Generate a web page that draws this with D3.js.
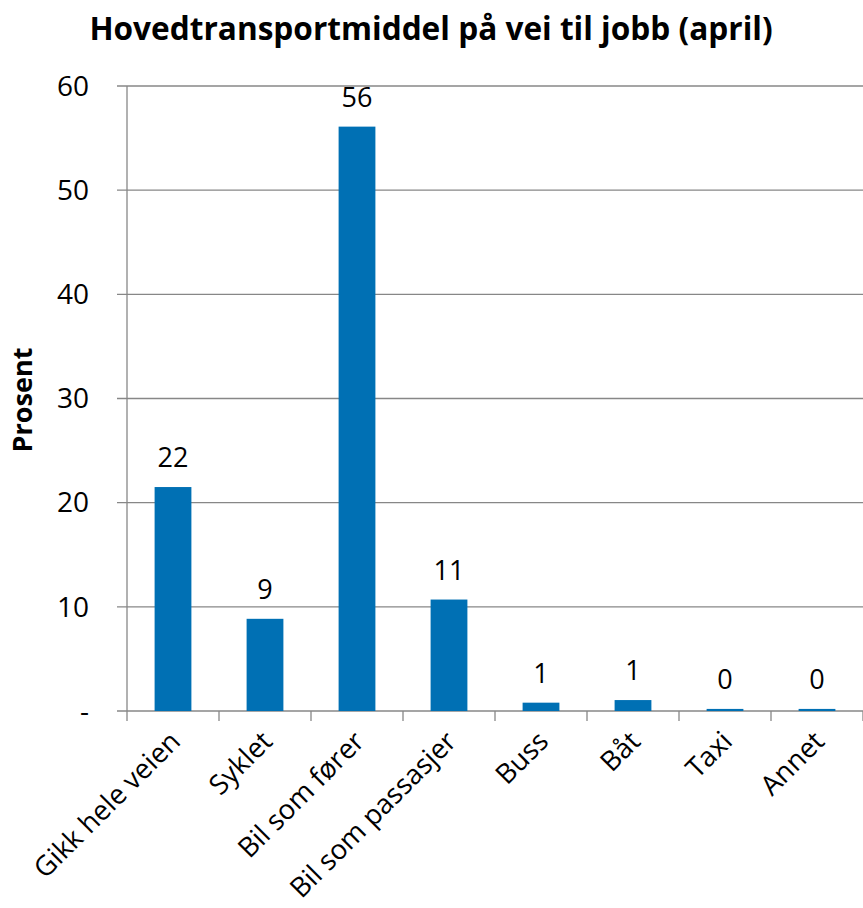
<!DOCTYPE html>
<html>
<head>
<meta charset="utf-8">
<script src="https://cdn.jsdelivr.net/npm/d3@7"></script>
<style>
  body { margin: 0; background: #fff; }
  text { font-family: "Open Sans", "Noto Sans", sans-serif; fill: #000; }
</style>
</head>
<body>
<svg id="chart" width="863" height="908"></svg>
<script>
const categories = ["Gikk hele veien", "Syklet", "Bil som fører", "Bil som passasjer", "Buss", "Båt", "Taxi", "Annet"];
const values = [21.5, 8.85, 56.1, 10.7, 0.8, 1.05, 0.2, 0.2];
const yTicks = [0, 10, 20, 30, 40, 50, 60];

const margin = { top: 86, right: 0, bottom: 197, left: 127 };
const width = 863;
const height = 908;

const svg = d3.select("#chart");

const x = d3.scaleBand()
  .domain(categories)
  .range([margin.left, width - margin.right])
  .paddingInner(0.6)
  .paddingOuter(0.3);

// band ticks sit on category boundaries, so keep a plain step scale too
const step = (width - margin.right - margin.left) / categories.length;

const y = d3.scaleLinear()
  .domain([0, 60])
  .range([height - margin.bottom, margin.top]);

// gridlines
svg.append("g")
  .selectAll("line")
  .data(yTicks)
  .join("line")
  .attr("x1", margin.left - 10)
  .attr("x2", width)
  .attr("y1", d => y(d))
  .attr("y2", d => y(d))
  .attr("stroke", "#878787")
  .attr("stroke-width", 1.3);

// y axis line
svg.append("line")
  .attr("x1", margin.left).attr("x2", margin.left)
  .attr("y1", y(60)).attr("y2", y(0))
  .attr("stroke", "#878787").attr("stroke-width", 1.3);

// y tick labels
svg.append("g")
  .selectAll("text")
  .data(yTicks)
  .join("text")
  .attr("x", margin.left - 38)
  .attr("y", d => y(d))
  .attr("dy", "0.35em")
  .attr("text-anchor", "end")
  .style("font-size", "28px")
  .text(d => d === 0 ? "-" : d);

// x tick marks
svg.append("g")
  .selectAll("line")
  .data(d3.range(categories.length + 1))
  .join("line")
  .attr("x1", i => margin.left + i * step)
  .attr("x2", i => margin.left + i * step)
  .attr("y1", y(0))
  .attr("y2", y(0) + 10)
  .attr("stroke", "#878787")
  .attr("stroke-width", 1.3);

// bars
svg.append("g")
  .selectAll("rect")
  .data(values)
  .join("rect")
  .attr("x", (d, i) => x(categories[i]))
  .attr("width", x.bandwidth())
  .attr("y", d => y(d))
  .attr("height", d => y(0) - y(d))
  .attr("fill", "#0070b4");

// data labels
svg.append("g")
  .selectAll("text")
  .data(values)
  .join("text")
  .attr("x", (d, i) => x(categories[i]) + x.bandwidth() / 2)
  .attr("y", d => y(d) - 20)
  .attr("text-anchor", "middle")
  .style("font-size", "27px")
  .text(d => Math.round(d));

// x category labels
svg.append("g")
  .selectAll("text")
  .data(categories)
  .join("text")
  .attr("transform", d => `translate(${x(d) + x.bandwidth() / 2 + 9}, ${y(0) + 32}) rotate(-45)`)
  .attr("text-anchor", "end")
  .style("font-size", "27.5px")
  .text(d => d);

// y axis title
svg.append("text")
  .attr("transform", `translate(32, 400) rotate(-90)`)
  .attr("text-anchor", "middle")
  .style("font-size", "27px")
  .style("font-weight", "bold")
  .text("Prosent");

// chart title
svg.append("text")
  .attr("x", 431)
  .attr("y", 40)
  .attr("text-anchor", "middle")
  .style("font-size", "31.6px")
  .style("font-weight", "bold")
  .text("Hovedtransportmiddel på vei til jobb (april)");
</script>
</body>
</html>
